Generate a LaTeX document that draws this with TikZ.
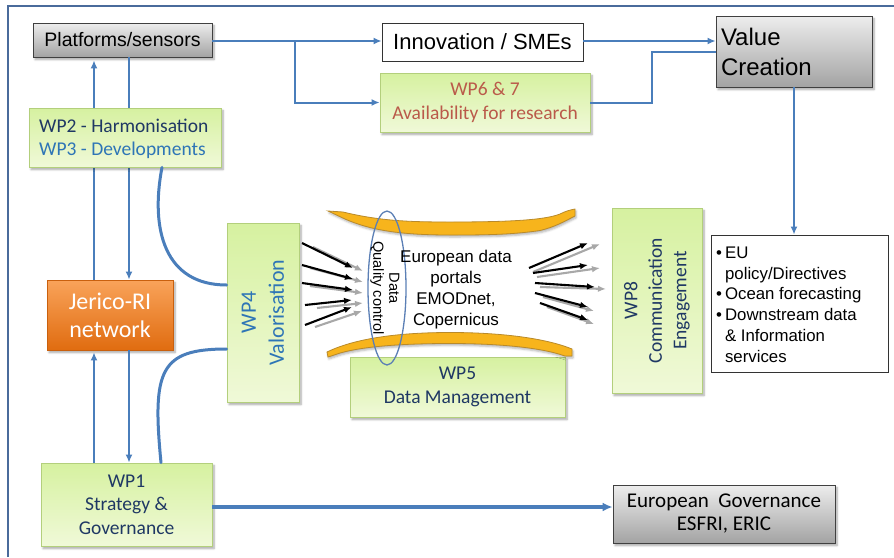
\documentclass[tikz,border=0pt]{standalone}
\usepackage{fontspec}
\setmainfont{Liberation Sans}
\newfontfamily\carl{Carlito}
\usetikzlibrary{arrows.meta,shapes.geometric,shadows.blur,calc}

\definecolor{linkblue}{HTML}{4A7EBB}
\definecolor{framecol}{HTML}{4A6B9B}
\definecolor{navy}{HTML}{1F3864}
\definecolor{wpblue}{HTML}{2E75B6}
\definecolor{wpred}{HTML}{BA5A4A}
\definecolor{greentop}{HTML}{D6F1A0}
\definecolor{greenbot}{HTML}{F0F9D8}
\definecolor{greenedge}{HTML}{B3CF7C}
\definecolor{graytop}{HTML}{EDEDED}
\definecolor{graybot}{HTML}{A3A3A3}
\definecolor{orangetop}{HTML}{F9A35A}
\definecolor{orangebot}{HTML}{E06C10}
\definecolor{orangeedge}{HTML}{C9600E}
\definecolor{goldfill}{HTML}{F7B41C}
\definecolor{goldedge}{HTML}{B98A2A}
\definecolor{fangray}{HTML}{A8A8A8}
\definecolor{ellipseblue}{HTML}{5B7FB5}

\tikzset{
  box/.style={rectangle, inner sep=0pt, line width=0.8pt,
    blur shadow={shadow xshift=2pt, shadow yshift=-2.5pt, shadow blur steps=6, shadow opacity=35}},
  wpbox/.style={box, draw=greenedge, top color=greentop, bottom color=greenbot},
  wptext/.style={inner sep=0pt, text=navy, align=center, font=\carl\fontsize{19.5}{23.5}\selectfont},
  graybox/.style={box, draw=black!75, top color=graytop, bottom color=graybot},
  plainbox/.style={rectangle, inner sep=0pt, line width=0.8pt, draw=black!80, fill=white},
  link/.style={draw=linkblue, line width=2pt, -{Latex[length=8pt,width=7pt]}},
  plainlink/.style={draw=linkblue, line width=2pt},
  curvelink/.style={draw=linkblue, line width=3pt, line cap=round},
  fanblack/.style={draw=black, line width=2.1pt, -{Latex[length=8pt,width=6.5pt]}},
  fangrey/.style={draw=fangray, line width=2.1pt, -{Latex[length=8pt,width=6.5pt]}},
  goldbar/.style={fill=goldfill, draw=goldedge, line width=0.8pt,
    blur shadow={shadow xshift=1pt, shadow yshift=-2pt, shadow blur steps=4, shadow opacity=30}},
}

\begin{document}
\begin{tikzpicture}[x=1pt, y=-1pt]
\useasboundingbox (0,0) rectangle (894,557);

% outer frame (left and top edges)
\draw[framecol, line width=2.5pt] (8,557) -- (8,6) -- (894,6);

% top row
\node[graybox, minimum width=179, minimum height=34, font=\fontsize{19.5}{23}\selectfont] (plat) at (122.5,40) {Platforms/sensors};
\node[plainbox, minimum width=201, minimum height=38, font=\fontsize{22}{26}\selectfont] (innov) at (482.5,42) {Innovation / SMEs};
\node[wpbox, minimum width=210, minimum height=59] (wp67) at (485,102.5) {};
\node[wptext, text=wpred] (wp67text) at (wp67.center) {WP6 \& 7\\Availability for research};
\node[graybox, minimum width=156, minimum height=71, text width=146, inner xsep=5pt, align=left,
      font=\fontsize{24}{30}\selectfont] (value) at (794,51.5) {Value\\Creation};

% outcomes list
\node[plainbox, minimum width=177, minimum height=137] (outcomes) at (799.5,303.5) {};
\node[anchor=north west, inner sep=0pt, font=\fontsize{16.8}{20.8}\selectfont] (outtext) at (716,243.5)
  {\begin{tabular}{@{}l@{\hspace{3pt}}l@{}}
   \textbullet & EU\\
               & policy/Directives\\
   \textbullet & Ocean forecasting\\
   \textbullet & Downstream data\\
               & \& Information\\
               & services
   \end{tabular}};

% network node
\node[box, draw=orangeedge, top color=orangetop, bottom color=orangebot, minimum width=126, minimum height=70,
      text=white, align=center, font=\carl\fontsize{24}{28}\selectfont] (jerico) at (110,315) {Jerico-RI\\network};

% vertical links between platforms, network and strategy
\coordinate (colA) at (94,0);
\coordinate (colB) at (129,0);
\draw[link, shorten >=3pt] (colA |- jerico.north) -- (colA |- plat.south);
\draw[link] (colB |- plat.south) -- (colB |- jerico.north);

\node[wpbox, minimum width=171, minimum height=83] (wp1) at (126.5,504.5) {};
\node[wptext] (wp1text) at (wp1.center) {WP1\\Strategy \&\\Governance};
\draw[link, shorten >=2pt] (colA |- wp1.north) -- (colA |- jerico.south);
\draw[link] (colB |- jerico.south) -- (colB |- wp1.north);

% harmonisation box sits over the vertical links
\node[wpbox, minimum width=192, minimum height=59] (wp2) at (125,137.5) {};
\node[wptext, align=left, anchor=west] (wp2text) at (39,139)
  {WP2 - Harmonisation\\\textcolor{wpblue}{WP3 - Developments}};

% valorisation
\node[wpbox, minimum width=72, minimum height=179] (wp4) at (263,312.5) {};
\node[wptext, text=wpblue, rotate=90, font=\carl\fontsize{22}{28}\selectfont] (wp4text) at (wp4.center) {WP4\\Valorisation};

% data management
\node[wpbox, minimum width=215, minimum height=60] (wp5) at (457.5,387) {};
\node[wptext] (wp5text) at (wp5.center) {WP5\\Data Management};

% communication
\node[wpbox, minimum width=90, minimum height=185] (wp8) at (657,300.5) {};
\node[wptext, rotate=90, font=\carl\fontsize{19.5}{24.5}\selectfont] (wp8text) at (wp8.center) {WP8\\Communication\\Engagement};

% governance
\node[graybox, minimum width=222, minimum height=58, align=center, font=\carl\fontsize{21}{23}\selectfont] (eg) at (724,514)
  {European\hspace{0.45em}Governance\\ESFRI, ERIC};

% curved links to valorisation
\coordinate (curveTopX) at (162,0);
\coordinate (curveBotX) at (161,0);
\coordinate (curveTop) at (0,285);
\coordinate (curveBot) at (0,349);
\draw[curvelink] (curveTopX |- wp2.south) .. controls (150,230) and (165,285) .. (wp4.west |- curveTop);
\draw[curvelink] (wp4.west |- curveBot) .. controls (160,349) and (152,370) .. (curveBotX |- wp1.north);

% links along the top
\coordinate (toprow) at (0,41);
\coordinate (split) at (295,41);
\coordinate (riseX) at (652,52);
\draw[link] (plat.east |- toprow) -- (innov.west |- toprow);
\draw[link] (split) |- (wp67.west);
\draw[link] (innov.east |- toprow) -- (value.west |- toprow);
\draw[plainlink] (wp67.east) -| (riseX) -- (riseX -| value.west);
\draw[link] (value.south) -- (value.south |- outcomes.north);

% strategy to governance
\coordinate (govrow) at (0,507);
\draw[link, line width=3.5pt, -{Latex[length=10pt,width=9pt]}] (wp1.east |- govrow) -- (eg.west |- govrow);

% portal bars: flat arcs with upturned ends
\path[goldbar] (328,211) -- (343,212)
   .. controls (380,221) and (410,222) .. (450,222)
   .. controls (510,222) and (545,220) .. (560,214)
   .. controls (566,211) and (570,210) .. (575,209)
   -- (575,216)
   .. controls (565,221) and (555,227) .. (540,230.5)
   .. controls (510,235) and (480,235) .. (450,235)
   .. controls (400,235) and (370,230) .. (345,219) -- cycle;
\path[goldbar] (327,352)
   .. controls (360,336) and (410,332.5) .. (450,332.5)
   .. controls (500,332.5) and (545,338) .. (572,349)
   -- (572,356) -- (565,356)
   .. controls (540,347) and (495,343.5) .. (450,343.5)
   .. controls (405,343.5) and (365,346) .. (340,353) -- (328,357) -- cycle;

% incoming data streams
\foreach \i/\ax/\ay/\bx/\by/\cx/\cy/\dx/\dy in {
    1/302/243/353/268/313/247/363/271,
    2/302/265/353/279/310/268/363/282,
    3/302/283/353/290/310/286/363/293,
    4/305/305/352/300/317/308/363/303,
    5/305/325/352/307/315/327/362/311}{
  \coordinate (inA\i) at (\ax,\ay);
  \coordinate (inB\i) at (\bx,\by);
  \coordinate (inC\i) at (\cx,\cy);
  \coordinate (inD\i) at (\dx,\dy);
  \draw[fangrey] (inC\i) -- (inD\i);
  \draw[fanblack] (inA\i) -- (inB\i);
}

% outgoing data streams
\foreach \i/\ax/\ay/\bx/\by/\cx/\cy/\dx/\dy in {
    1/529/268/588/243/533/272/600/244,
    2/533/273/588/265/537/277/600/268,
    3/535/283/595/287/540/287/606/289,
    4/535/293/588/307/543/297/594/311,
    5/540/303/588/320/547/307/594/324}{
  \coordinate (outA\i) at (\ax,\ay);
  \coordinate (outB\i) at (\bx,\by);
  \coordinate (outC\i) at (\cx,\cy);
  \coordinate (outD\i) at (\dx,\dy);
  \draw[fangrey] (outC\i) -- (outD\i);
  \draw[fanblack] (outA\i) -- (outB\i);
}

% quality control ring and portal label
\node[draw=ellipseblue, line width=1.3pt, ellipse, inner sep=0pt, minimum width=38, minimum height=154] (dqc) at (387,288) {};
\node[rotate=-90, inner sep=0pt, align=center, font=\fontsize{14.6}{16}\selectfont] (dqctext) at (385,288) {Data\\Quality control};
\node[inner sep=0pt, align=center, font=\fontsize{17}{21}\selectfont] (portal) at (456,290)
  {European data\\portals\\EMODnet,\\Copernicus};

\end{tikzpicture}
\end{document}
